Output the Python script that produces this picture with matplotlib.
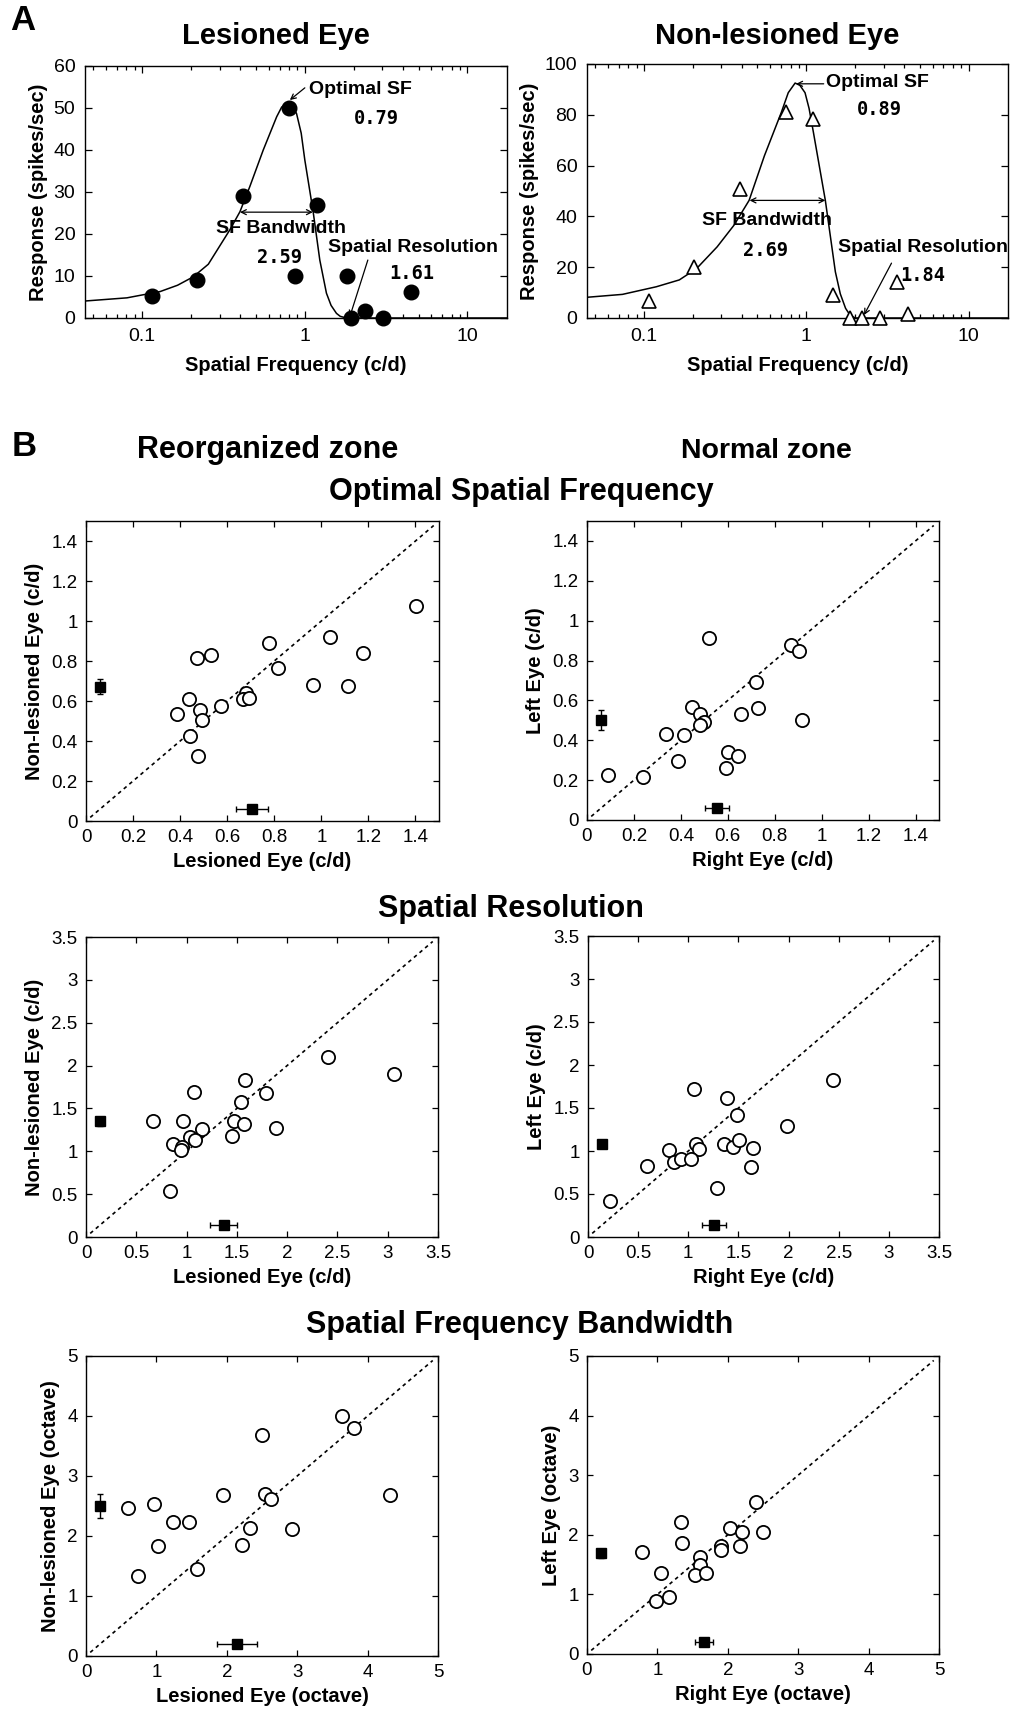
import matplotlib
matplotlib.use("Agg")
import matplotlib.pyplot as plt
from matplotlib.ticker import FixedLocator, LogLocator, NullFormatter

plt.rcParams['font.family'] = ['Liberation Sans', 'DejaVu Sans']

W, H = 1014, 1716

# ---------------- Panel A data ----------------
les_sf = [0.115, 0.218, 0.419, 0.80, 0.866, 1.18, 1.81, 1.91, 2.34, 3.04, 4.48]
les_resp = [5.3, 9.0, 29.0, 50.0, 9.9, 27.0, 10.0, 0.0, 1.7, 0.0, 6.3]
les_fit_sf = [0.0447, 0.0806, 0.129, 0.165, 0.206, 0.255, 0.346, 0.399, 0.459, 0.555,
              0.671, 0.72, 0.776, 0.83, 0.889, 0.95, 1.0, 1.125, 1.236, 1.358,
              1.45, 1.565, 1.65, 1.80, 17.4]
les_fit_resp = [4.05, 4.8, 6.3, 7.8, 9.8, 12.8, 21.0, 25.3, 31.3, 40.0,
                47.9, 50.2, 51.2, 50.6, 48.7, 44.0, 37.6, 25.3, 13.8, 5.9,
                3.0, 1.1, 0.4, 0.0, 0.0]

non_sf = [0.107, 0.204, 0.391, 0.751, 1.10, 1.46, 1.85, 2.19, 2.84, 3.60, 4.22]
non_resp = [6.5, 20.0, 50.6, 81.0, 78.5, 9.0, 0.0, 0.0, 0.0, 14.3, 1.6]
non_fit_sf = [0.0416, 0.0736, 0.119, 0.165, 0.211, 0.282, 0.358, 0.444, 0.552, 0.701,
              0.774, 0.853, 0.913, 0.982, 1.04, 1.106, 1.31, 1.51, 1.62, 1.746,
              1.87, 2.01, 17.3]
non_fit_resp = [8.0, 9.3, 12.3, 15.0, 19.5, 28.0, 36.5, 46.3, 63.9, 80.9,
                88.7, 92.5, 91.6, 88.7, 82.5, 73.1, 46.3, 18.2, 9.5, 3.8,
                0.9, 0.0, 0.0]

les_values = ["0.79", "2.59", "1.61"]
non_values = ["0.89", "2.69", "1.84"]

# ---------------- Panel B data ----------------
# Optimal SF, reorganized zone
osf_reo_x = [1.403, 1.035, 0.779, 1.178, 0.817, 0.531, 0.472, 0.964, 1.113, 0.679,
             0.669, 0.693, 0.437, 0.574, 0.385, 0.484, 0.492, 0.441, 0.475]
osf_reo_y = [1.077, 0.922, 0.89, 0.838, 0.767, 0.828, 0.815, 0.678, 0.675, 0.64,
             0.608, 0.617, 0.608, 0.573, 0.537, 0.553, 0.507, 0.423, 0.323]
osf_reo_mean = [0.706, 0.672]
osf_reo_err = [0.067, 0.038]
# Optimal SF, normal zone
osf_nor_x = [0.52, 0.87, 0.904, 0.722, 0.727, 0.655, 0.915, 0.446, 0.481, 0.499,
             0.482, 0.335, 0.415, 0.388, 0.599, 0.643, 0.594, 0.089, 0.24]
osf_nor_y = [0.913, 0.878, 0.847, 0.693, 0.562, 0.533, 0.503, 0.565, 0.532, 0.492,
             0.475, 0.433, 0.425, 0.295, 0.342, 0.323, 0.262, 0.225, 0.217]
osf_nor_mean = [0.555, 0.503]
osf_nor_err = [0.052, 0.05]
# Spatial resolution, reorganized zone
res_reo_x = [3.066, 2.403, 1.584, 1.79, 1.075, 1.541, 0.662, 0.964, 1.475, 1.574,
             1.889, 1.157, 1.456, 1.036, 1.082, 0.866, 0.954, 0.944, 0.836]
res_reo_y = [1.906, 2.10, 1.829, 1.681, 1.689, 1.572, 1.35, 1.35, 1.35, 1.323,
             1.272, 1.265, 1.175, 1.163, 1.128, 1.089, 1.051, 1.012, 0.541]
res_reo_mean = [1.37, 1.35]
res_reo_err = [0.134, 0.05]
# Spatial resolution, normal zone
res_nor_x = [2.443, 1.056, 1.384, 1.482, 1.987, 1.072, 1.111, 1.354, 1.446, 1.508,
             1.643, 1.623, 0.803, 0.862, 0.925, 1.023, 0.587, 1.282, 0.22]
res_nor_y = [1.824, 1.723, 1.618, 1.413, 1.288, 1.083, 1.024, 1.083, 1.048, 1.125,
             1.036, 0.815, 1.017, 0.873, 0.908, 0.912, 0.823, 0.57, 0.423]
res_nor_mean = [1.252, 1.083]
res_nor_err = [0.12, 0.05]
# SF bandwidth, reorganized zone
bw_reo_x = [3.637, 3.802, 2.5, 4.316, 1.948, 2.547, 2.623, 0.59, 0.972, 1.24,
            1.462, 2.335, 2.925, 2.222, 1.024, 1.58, 0.741]
bw_reo_y = [4.007, 3.80, 3.683, 2.684, 2.684, 2.706, 2.622, 2.466, 2.528, 2.232,
            2.232, 2.132, 2.109, 1.858, 1.83, 1.451, 1.328]
bw_reo_mean = [2.142, 2.5]
bw_reo_err = [0.28, 0.2]
# SF bandwidth, normal zone
bw_nor_x = [2.406, 1.33, 2.038, 2.203, 2.5, 1.354, 2.175, 1.901, 1.901, 0.788,
            1.604, 1.604, 1.533, 1.693, 1.052, 1.165, 0.986]
bw_nor_y = [2.553, 2.218, 2.112, 2.05, 2.05, 1.855, 1.816, 1.816, 1.749, 1.715,
            1.631, 1.497, 1.33, 1.352, 1.352, 0.961, 0.883]
bw_nor_mean = [1.665, 1.687]
bw_nor_err = [0.13, 0.07]

fig = plt.figure(figsize=(W / 100, H / 100), dpi=100)


def add_ax(x0, y0, x1, y1):
    return fig.add_axes([x0 / W, 1 - y1 / H, (x1 - x0) / W, (y1 - y0) / H])


def ftext(x, y, s, **kw):
    fig.text(x / W, 1 - y / H, s, **kw)


LBL = dict(fontsize=14.5, fontweight='bold')


def style_panelA(ax, ymax, ystep):
    ax.set_xscale('log')
    ax.set_xlim(0.0445, 17.5)
    ax.set_ylim(0, ymax)
    ax.set_yticks(list(range(0, ymax + 1, ystep)))
    ax.set_xticks([0.1, 1, 10])
    ax.set_xticklabels(['0.1', '1', '10'])
    ax.xaxis.set_minor_locator(LogLocator(base=10, subs=range(2, 10)))
    ax.xaxis.set_minor_formatter(NullFormatter())
    ax.tick_params(which='both', direction='in', top=True, right=True, labelsize=14, width=0.9)
    ax.tick_params(which='major', length=5, pad=7)
    ax.tick_params(which='minor', length=3)
    for s in ax.spines.values():
        s.set_linewidth(1.0)
    ax.set_xlabel('Spatial Frequency (c/d)', labelpad=8, **LBL)
    ax.set_ylabel('Response (spikes/sec)', labelpad=4, **LBL)


ANN = dict(fontsize=14, fontweight='bold')
NUM = dict(fontsize=13.5, fontweight='bold', family='DejaVu Sans Mono')
ARW = dict(arrowstyle='->', lw=0.9, color='k', shrinkA=0, shrinkB=0, mutation_scale=9)
DARW = dict(arrowstyle='<->', lw=0.9, color='k', shrinkA=0, shrinkB=0, mutation_scale=9)

# ---- A left ----
axL = add_ax(85, 66, 507, 318)
axL.plot(les_fit_sf, les_fit_resp, color='k', lw=1.1)
axL.plot(les_sf, les_resp, 'o', color='k', ms=10.5, clip_on=False, zorder=5)
style_panelA(axL, 60, 10)
axL.annotate('', xy=(0.809, 51.9), xytext=(1.0, 54.8), arrowprops=ARW)
axL.text(1.06, 54.4, 'Optimal SF', ha='left', va='center', **ANN)
axL.text(2.77, 47.6, les_values[0], ha='center', va='center', **NUM)
axL.annotate('', xy=(0.399, 25.2), xytext=(1.12, 25.2), arrowprops=DARW)
axL.text(0.713, 21.4, 'SF Bandwidth', ha='center', va='center', **ANN)
axL.text(0.703, 14.5, les_values[1], ha='center', va='center', **NUM)
axL.text(4.6, 16.9, 'Spatial Resolution', ha='center', va='center', **ANN)
axL.text(4.54, 10.7, les_values[2], ha='center', va='center', **NUM)
axL.annotate('', xy=(1.89, 0.3), xytext=(2.44, 13.8), arrowprops=ARW)

# ---- A right ----
axR = add_ax(587, 64, 1008, 318)
axR.plot(non_fit_sf, non_fit_resp, color='k', lw=1.1)
axR.plot(non_sf, non_resp, '^', mfc='white', mec='k', mew=1.2, ms=10.5, clip_on=False, zorder=5)
style_panelA(axR, 100, 20)
axR.annotate('', xy=(0.866, 92.2), xytext=(1.28, 92.2), arrowprops=ARW)
axR.text(1.33, 92.6, 'Optimal SF', ha='left', va='center', **ANN)
axR.text(2.82, 82.0, non_values[0], ha='center', va='center', **NUM)
axR.annotate('', xy=(0.447, 46.3), xytext=(1.31, 46.3), arrowprops=DARW)
axR.text(0.571, 38.4, 'SF Bandwidth', ha='center', va='center', **ANN)
axR.text(0.557, 26.7, non_values[1], ha='center', va='center', **NUM)
axR.text(5.23, 27.8, 'Spatial Resolution', ha='center', va='center', clip_on=False, **ANN)
axR.text(5.23, 16.9, non_values[2], ha='center', va='center', **NUM)
axR.annotate('', xy=(2.27, 1.2), xytext=(3.35, 21.6), arrowprops=ARW)

ftext(23, 21, 'A', fontsize=25, fontweight='bold', ha='center', va='center')
ftext(276, 36, 'Lesioned Eye', fontsize=21, fontweight='bold', ha='center', va='center')
ftext(777, 36, 'Non-lesioned Eye', fontsize=21, fontweight='bold', ha='center', va='center')

# ---------------- Panel B ----------------
ftext(24, 446, 'B', fontsize=25, fontweight='bold', ha='center', va='center')
ftext(268, 450, 'Reorganized zone', fontsize=22, fontweight='bold', ha='center', va='center')
ftext(766, 451, 'Normal zone', fontsize=20.5, fontweight='bold', ha='center', va='center')
ftext(521, 492, 'Optimal Spatial Frequency', fontsize=22, fontweight='bold', ha='center', va='center')
ftext(511, 909, 'Spatial Resolution', fontsize=22, fontweight='bold', ha='center', va='center')
ftext(520, 1325, 'Spatial Frequency Bandwidth', fontsize=22, fontweight='bold', ha='center', va='center')


def scatter_panel(rect, xs, ys, mean, err, lim, ticks, ticklabels, xlabel, ylabel):
    ax = add_ax(*rect)
    ax.plot([lim * 0.012, lim * 0.985], [lim * 0.012, lim * 0.985], color='k', lw=1.2,
            ls=(0, (2.2, 2.2)))
    ax.plot(xs, ys, 'o', mfc='white', mec='k', mew=1.3, ms=9.5, zorder=4)
    off = lim * 0.04
    # mean of x (shown near the bottom) and mean of y (shown near the left)
    ax.errorbar([mean[0]], [off], xerr=[err[0]], fmt='s', color='k', ms=7.5,
                elinewidth=1, capsize=2.5, capthick=1, zorder=5)
    ax.errorbar([off], [mean[1]], yerr=[err[1]], fmt='s', color='k', ms=7.5,
                elinewidth=1, capsize=2.5, capthick=1, zorder=5)
    ax.set_xlim(0, lim)
    ax.set_ylim(0, lim)
    ax.xaxis.set_major_locator(FixedLocator(ticks))
    ax.yaxis.set_major_locator(FixedLocator(ticks))
    ax.set_xticklabels(ticklabels)
    ax.set_yticklabels(ticklabels)
    ax.tick_params(direction='in', top=True, right=True, length=4, width=0.9, labelsize=13.5, pad=6)
    for s in ax.spines.values():
        s.set_linewidth(1.0)
    ax.set_xlabel(xlabel, labelpad=4, **LBL)
    ax.set_ylabel(ylabel, labelpad=5, **LBL)
    return ax


t_osf = [0, 0.2, 0.4, 0.6, 0.8, 1.0, 1.2, 1.4]
l_osf = ['0', '0.2', '0.4', '0.6', '0.8', '1', '1.2', '1.4']
t_res = [0, 0.5, 1, 1.5, 2, 2.5, 3, 3.5]
l_res = ['0', '0.5', '1', '1.5', '2', '2.5', '3', '3.5']
t_bw = [0, 1, 2, 3, 4, 5]
l_bw = ['0', '1', '2', '3', '4', '5']

scatter_panel((86, 521, 439, 821), osf_reo_x, osf_reo_y, osf_reo_mean, osf_reo_err, 1.5,
              t_osf, l_osf, 'Lesioned Eye (c/d)', 'Non-lesioned Eye (c/d)')
scatter_panel((587, 521, 939, 820), osf_nor_x, osf_nor_y, osf_nor_mean, osf_nor_err, 1.5,
              t_osf, l_osf, 'Right Eye (c/d)', 'Left Eye (c/d)')
scatter_panel((86, 937, 438, 1237), res_reo_x, res_reo_y, res_reo_mean, res_reo_err, 3.5,
              t_res, l_res, 'Lesioned Eye (c/d)', 'Non-lesioned Eye (c/d)')
scatter_panel((588, 936, 939, 1237), res_nor_x, res_nor_y, res_nor_mean, res_nor_err, 3.5,
              t_res, l_res, 'Right Eye (c/d)', 'Left Eye (c/d)')
scatter_panel((86, 1356, 438, 1656), bw_reo_x, bw_reo_y, bw_reo_mean, bw_reo_err, 5,
              t_bw, l_bw, 'Lesioned Eye (octave)', 'Non-lesioned Eye (octave)')
scatter_panel((587, 1356, 939, 1654), bw_nor_x, bw_nor_y, bw_nor_mean, bw_nor_err, 5,
              t_bw, l_bw, 'Right Eye (octave)', 'Left Eye (octave)')

fig.savefig('out.png', dpi=100)
